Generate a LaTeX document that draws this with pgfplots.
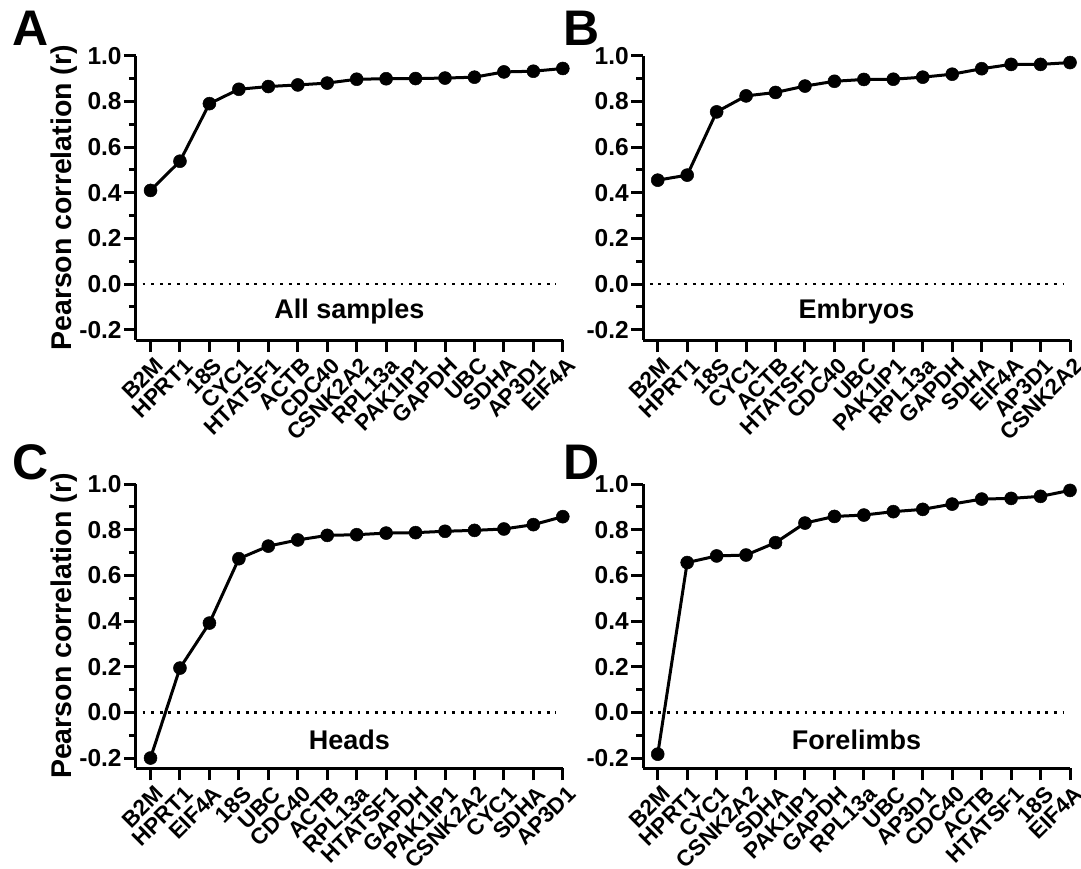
\documentclass[border=0pt]{standalone}
\usepackage{fontspec}
\setmainfont{Liberation Sans}
\usepackage{pgfplots}
\pgfplotsset{compat=1.18}

\pgfplotsset{
  panel/.style={
    scale only axis, width=427bp, height=284.3bp,
    xmin=-0.5, xmax=14, ymin=-0.245, ymax=1.0,
    axis x line*=bottom, axis y line*=left,
    axis line style={line width=3bp, black},
    every tick/.style={line width=3bp, black},
    tick align=outside,
    major tick length=12bp, minor tick length=7bp,
    ytick={-0.2,0,0.2,0.4,0.6,0.8,1.0},
    yticklabels={-0.2,0.0,0.2,0.4,0.6,0.8,1.0},
    minor ytick={-0.1,0.1,0.3,0.5,0.7,0.9},
    xtick={0,...,14},
    yticklabel style={font=\fontsize{24.5bp}{28bp}\selectfont\bfseries, inner sep=0pt, anchor=east, xshift=-2bp},
    xticklabel style={font=\fontsize{22.5bp}{26bp}\selectfont\bfseries, xshift=3bp, yshift=-4bp, rotate=45, anchor=north east, inner sep=0pt},
    clip=false,
    ylabel={Pearson correlation (r)},
    every axis y label/.style={at={(axis description cs:-0.169,0.5)}, rotate=90, anchor=center, font=\fontsize{28.5bp}{32bp}\selectfont\bfseries},
  },
  series/.style={black, line width=3bp, mark=*, mark size=6.5bp, mark options={solid, fill=black, line width=0.5bp}},
  zero/.style={black, line width=2.8bp, dash pattern=on 2.8bp off 5.8bp},
}
\tikzset{
  inlabel/.style={font=\fontsize{27bp}{30bp}\selectfont\bfseries},
  letter/.style={anchor=base west, inner sep=0pt, font=\fontsize{50bp}{52bp}\selectfont\bfseries},
}

\begin{document}
\begin{tikzpicture}
\useasboundingbox (0,0) rectangle (1081bp,-869bp);

% Panel A
\begin{axis}[panel, at={(135.8bp,-340bp)}, anchor=south west,
  xticklabels={B2M,HPRT1,18S,CYC1,HTATSF1,ACTB,CDC40,CSNK2A2,RPL13a,PAK1IP1,GAPDH,UBC,SDHA,AP3D1,EIF4A}]
\addplot[zero] coordinates {(-0.27,0) (13.75,0)};
\addplot[series] coordinates {(0,0.410) (1,0.538) (2,0.790) (3,0.853) (4,0.865) (5,0.872) (6,0.880) (7,0.897) (8,0.899) (9,0.900) (10,0.902) (11,0.906) (12,0.929) (13,0.932) (14,0.944)};
\node[inlabel] at (axis cs:6.75,-0.122) {All samples};
\end{axis}

% Panel B
\begin{axis}[panel, at={(643bp,-340bp)}, anchor=south west, ylabel={},
  xticklabels={B2M,HPRT1,18S,CYC1,ACTB,HTATSF1,CDC40,UBC,PAK1IP1,RPL13a,GAPDH,SDHA,EIF4A,AP3D1,CSNK2A2}]
\addplot[zero] coordinates {(-0.27,0) (13.75,0)};
\addplot[series] coordinates {(0,0.455) (1,0.477) (2,0.754) (3,0.824) (4,0.839) (5,0.867) (6,0.888) (7,0.896) (8,0.897) (9,0.906) (10,0.919) (11,0.943) (12,0.962) (13,0.962) (14,0.970)};
\node[inlabel] at (axis cs:6.75,-0.122) {Embryos};
\end{axis}

% Panel C
\begin{axis}[panel, at={(135.8bp,-768.3bp)}, anchor=south west,
  xticklabels={B2M,HPRT1,EIF4A,18S,UBC,CDC40,ACTB,RPL13a,HTATSF1,GAPDH,PAK1IP1,CSNK2A2,CYC1,SDHA,AP3D1}]
\addplot[zero] coordinates {(-0.27,0) (13.75,0)};
\addplot[series] coordinates {(0,-0.200) (1,0.194) (2,0.391) (3,0.673) (4,0.728) (5,0.755) (6,0.775) (7,0.778) (8,0.785) (9,0.787) (10,0.793) (11,0.797) (12,0.803) (13,0.822) (14,0.857)};
\node[inlabel] at (axis cs:6.75,-0.122) {Heads};
\end{axis}

% Panel D
\begin{axis}[panel, at={(643bp,-768.3bp)}, anchor=south west, ylabel={},
  xticklabels={B2M,HPRT1,CYC1,CSNK2A2,SDHA,PAK1IP1,GAPDH,RPL13a,UBC,AP3D1,CDC40,ACTB,HTATSF1,18S,EIF4A}]
\addplot[zero] coordinates {(-0.27,0) (13.75,0)};
\addplot[series] coordinates {(0,-0.183) (1,0.656) (2,0.685) (3,0.689) (4,0.743) (5,0.829) (6,0.858) (7,0.864) (8,0.879) (9,0.889) (10,0.912) (11,0.934) (12,0.937) (13,0.946) (14,0.972)};
\node[inlabel] at (axis cs:6.75,-0.122) {Forelimbs};
\end{axis}

\node[letter] at (12bp,-45bp) {A};
\node[letter] at (563bp,-45bp) {B};
\node[letter] at (12bp,-479bp) {C};
\node[letter] at (563bp,-479bp) {D};
\end{tikzpicture}
\end{document}
